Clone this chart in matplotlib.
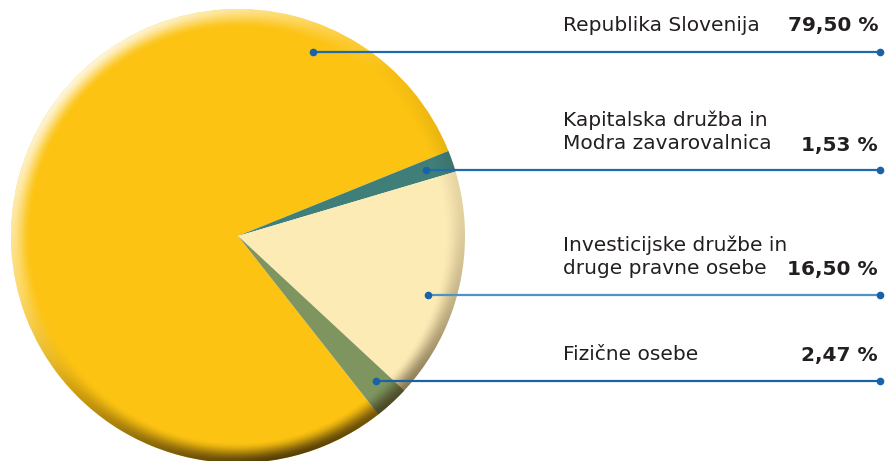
import numpy as np
import matplotlib
matplotlib.use("Agg")
import matplotlib.pyplot as plt
from matplotlib.patches import Circle

plt.rcParams["font.family"] = ["DejaVu Sans"]

# data
labels = ["Republika Slovenija",
          "Kapitalska družba in\nModra zavarovalnica",
          "Investicijske družbe in\ndruge pravne osebe",
          "Fizične osebe"]
shares = [79.50, 1.53, 16.50, 2.47]
share_labels = ["79,50 %", "1,53 %", "16,50 %", "2,47 %"]
colors = ["#FCC312", "#3F7E79", "#FDEBB6", "#7E9560"]

# layout (pixels, y measured from top of image)
W, H = 896, 461
cx, cy, R = 238, 236, 227
line_y = [52, 170, 295, 381]
line_x0 = [313, 426, 428, 376]
line_colors = ["#1D6AAE", "#1D6AAE", "#4D93C6", "#1863A8"]
text_y = [26, 131.5, 256.5, 355]
x_text, x_end = 563, 880

fig = plt.figure(figsize=(8.96, 4.61), dpi=100)
ax = fig.add_axes([0, 0, 1, 1])

wedges, _ = ax.pie(shares, colors=colors, startangle=308.2, counterclock=False,
                   center=(cx, H - cy), radius=R, frame=True,
                   wedgeprops=dict(linewidth=0))

# bevel shading round the rim: light from upper left, shadow at the bottom
n = 700
xs = np.linspace(cx - R, cx + R, n)
ys = np.linspace(H - cy - R, H - cy + R, n)
X, Y = np.meshgrid(xs, ys)
rr = np.hypot(X - cx, Y - (H - cy)) / R
th = np.arctan2(Y - (H - cy), X - cx)
t = np.clip((rr - 0.91) / 0.09, 0, 1)
t = t * t * (3 - 2 * t)
s = np.cos(th - np.radians(135))
light = np.clip(s, 0, 1) ** 1.2
bottom = np.clip(np.cos(th + np.radians(80)), 0, 1) ** 2

hi = np.zeros((n, n, 4))
hi[..., :3] = 1.0
hi[..., 3] = t * light * 0.85
sh = np.zeros((n, n, 4))
sh[..., 0], sh[..., 1], sh[..., 2] = 0.18, 0.12, 0.02
sh[..., 3] = t * (0.15 * np.clip(0.2 - s, 0, 1) + 0.65 * bottom)

clip = Circle((cx, H - cy), R, transform=ax.transData)
for im_data in (hi, sh):
    im = ax.imshow(im_data, origin="lower", interpolation="bilinear",
                   extent=(cx - R, cx + R, H - cy - R, H - cy + R), zorder=3)
    im.set_clip_path(clip)

# leader lines and labels
for i in range(len(labels)):
    y = H - line_y[i]
    ax.plot([line_x0[i], x_end], [y, y], color=line_colors[i], lw=1.6, zorder=4,
            solid_capstyle="butt")
    ax.plot([line_x0[i], x_end], [y, y], "o", color="#1863A8", ms=4.5, zorder=5)
    ax.text(x_text, H - text_y[i], labels[i], fontsize=14.5, color="#231F20",
            ha="left", va="center", linespacing=1.25)
    last_line = H - text_y[i] - (13.5 if "\n" in labels[i] else 0)
    ax.text(x_end - 2, last_line, share_labels[i], fontsize=14.5, color="#231F20",
            fontweight="bold", ha="right", va="center")

ax.set_xlim(0, W)
ax.set_ylim(0, H)
ax.set_aspect("equal")
ax.axis("off")

fig.savefig("out.png", dpi=100)
